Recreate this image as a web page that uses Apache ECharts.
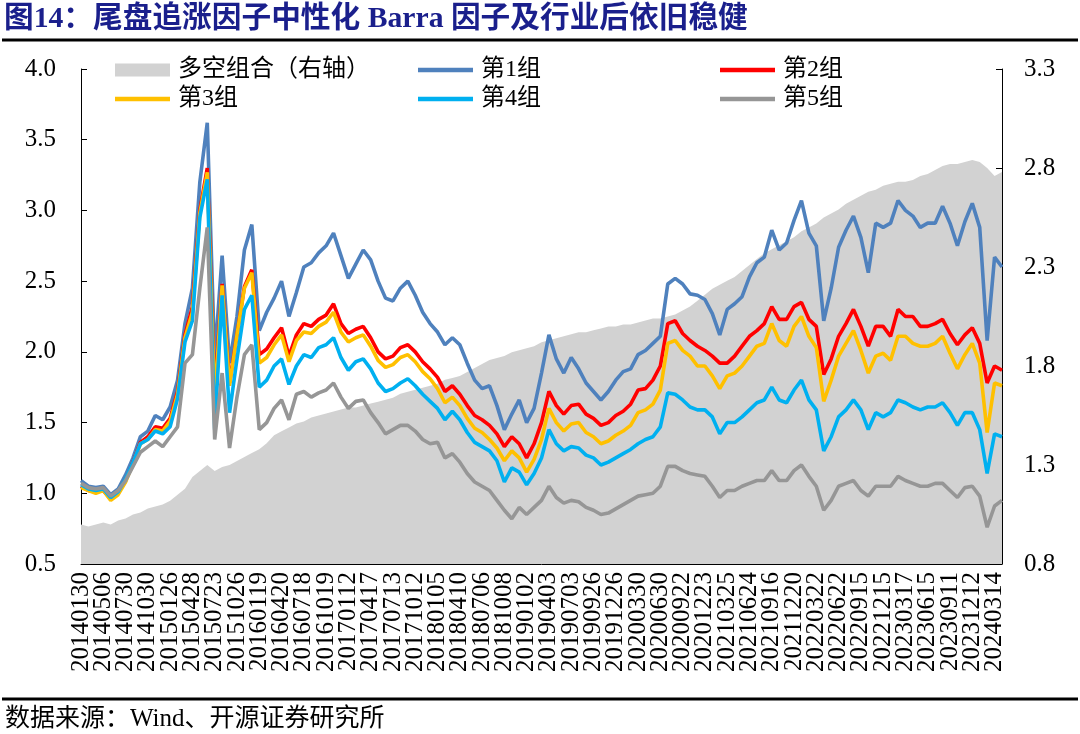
<!DOCTYPE html>
<html><head><meta charset="utf-8">
<script src="https://cdn.jsdelivr.net/npm/echarts@6/dist/echarts.min.js"></script>
<style>html,body{margin:0;padding:0;background:#fff}#c{width:1080px;height:734px}</style>
</head><body><div id="c"></div>
<script>
const titleText = '图14：尾盘追涨因子中性化 Barra 因子及行业后依旧稳健';
const sourceText = '数据来源：Wind、开源证券研究所';
const seriesNames = ['多空组合（右轴）','第1组','第2组','第3组','第4组','第5组'];
const leftAxisRange = [0.5, 4.0, 0.5];
const rightAxisRange = [0.8, 3.3, 0.5];
const labelEvery = 3;

const dates = [
'20140130','20140303','20140401','20140506','20140604','20140702','20140730','20140827','20140926','20141030','20141127','20141225','20150126','20150226','20150327',
'20150428','20150527','20150625','20150723','20150820','20150921','20151026','20151123','20151221','20160119','20160224','20160323','20160420','20160519','20160617',
'20160718','20160815','20160913','20161019','20161116','20161214','20170112','20170217','20170317','20170417','20170516','20170614','20170713','20170810','20170907',
'20171012','20171109','20171207','20180105','20180202','20180313','20180410','20180510','20180607','20180706','20180803','20180831','20181008','20181105','20181203',
'20190102','20190131','20190306','20190403','20190506','20190603','20190703','20190731','20190828','20190926','20191031','20191128','20191226','20200203','20200302',
'20200330','20200430','20200601','20200630','20200729','20200826','20200922','20201028','20201125','20201223','20210125','20210224','20210325','20210426','20210526',
'20210624','20210722','20210819','20210916','20211021','20211118','20211220','20220121','20220222','20220322','20220421','20220524','20220622','20220720','20220817',
'20220915','20221020','20221117','20221215','20230116','20230216','20230317','20230418','20230517','20230615','20230714','20230811','20230911','20231019','20231116',
'20231212','20240111','20240213','20240314','20240412'];

const longShort = [
1.00,0.99,1.00,1.01,1.00,1.02,1.03,1.05,1.06,1.08,1.09,1.10,1.12,1.15,1.18,
1.24,1.27,1.30,1.27,1.29,1.30,1.32,1.34,1.36,1.38,1.41,1.45,1.47,1.49,1.51,
1.52,1.54,1.55,1.56,1.57,1.58,1.59,1.59,1.60,1.61,1.62,1.63,1.64,1.66,1.67,
1.68,1.69,1.70,1.71,1.73,1.74,1.75,1.77,1.79,1.81,1.83,1.84,1.85,1.87,1.88,
1.89,1.90,1.92,1.93,1.94,1.95,1.96,1.97,1.97,1.98,1.99,2.00,2.00,2.01,2.01,
2.02,2.03,2.04,2.04,2.05,2.06,2.08,2.10,2.13,2.16,2.19,2.21,2.23,2.25,2.28,
2.31,2.34,2.37,2.39,2.41,2.43,2.45,2.48,2.50,2.52,2.55,2.57,2.59,2.62,2.64,
2.66,2.68,2.69,2.71,2.72,2.73,2.73,2.74,2.76,2.77,2.79,2.81,2.82,2.82,2.83,
2.84,2.83,2.80,2.76,2.78];

const group1 = [
1.09,1.05,1.04,1.05,0.99,1.03,1.13,1.25,1.40,1.44,1.55,1.52,1.61,1.80,2.20,
2.45,3.20,3.62,1.95,2.68,1.92,2.25,2.72,2.90,2.15,2.28,2.38,2.50,2.25,2.42,
2.60,2.63,2.70,2.75,2.84,2.68,2.52,2.62,2.72,2.65,2.50,2.38,2.36,2.45,2.50,
2.40,2.28,2.20,2.14,2.05,2.10,2.05,1.92,1.80,1.74,1.76,1.62,1.45,1.56,1.66,
1.50,1.60,1.85,2.12,1.95,1.85,1.96,1.88,1.78,1.72,1.66,1.72,1.80,1.86,1.88,
1.98,2.01,2.06,2.11,2.48,2.52,2.48,2.41,2.40,2.37,2.27,2.12,2.30,2.34,2.39,
2.53,2.63,2.67,2.86,2.72,2.77,2.93,3.07,2.84,2.75,2.22,2.45,2.74,2.86,2.96,
2.81,2.56,2.91,2.88,2.91,3.07,3.00,2.96,2.88,2.91,2.91,3.03,2.91,2.75,2.92,
3.05,2.88,2.08,2.67,2.60];

const group2 = [
1.05,1.02,1.01,1.02,0.96,1.00,1.09,1.22,1.36,1.40,1.47,1.46,1.53,1.72,2.12,
2.32,3.00,3.30,1.70,2.48,1.78,2.12,2.46,2.58,1.98,2.02,2.10,2.17,1.97,2.12,
2.20,2.18,2.23,2.26,2.34,2.20,2.13,2.16,2.18,2.10,2.00,1.95,1.97,2.03,2.05,
2.00,1.93,1.88,1.82,1.72,1.76,1.70,1.62,1.55,1.52,1.48,1.42,1.33,1.40,1.35,
1.25,1.35,1.50,1.72,1.62,1.56,1.62,1.63,1.56,1.53,1.48,1.50,1.55,1.58,1.63,
1.73,1.74,1.80,1.90,2.20,2.22,2.13,2.08,2.04,2.01,1.97,1.92,1.92,1.97,2.04,
2.11,2.15,2.20,2.32,2.23,2.23,2.32,2.35,2.23,2.18,1.84,1.95,2.11,2.20,2.30,
2.18,2.04,2.18,2.18,2.11,2.30,2.25,2.25,2.18,2.18,2.20,2.23,2.13,2.05,2.12,
2.17,2.06,1.78,1.90,1.87];

const group3 = [
1.04,1.02,1.00,1.02,0.95,0.99,1.08,1.21,1.35,1.38,1.45,1.44,1.51,1.70,2.10,
2.28,2.98,3.27,1.65,2.47,1.76,2.12,2.45,2.56,1.92,1.96,2.05,2.12,1.93,2.08,
2.14,2.13,2.18,2.21,2.28,2.14,2.07,2.10,2.12,2.04,1.94,1.89,1.91,1.96,1.98,
1.93,1.86,1.81,1.74,1.64,1.68,1.62,1.53,1.46,1.43,1.38,1.32,1.23,1.30,1.25,
1.15,1.24,1.38,1.60,1.50,1.44,1.49,1.50,1.43,1.40,1.35,1.37,1.41,1.44,1.48,
1.57,1.59,1.63,1.73,2.06,2.08,2.01,1.97,1.90,1.90,1.83,1.74,1.83,1.85,1.90,
1.97,2.04,2.06,2.20,2.08,2.04,2.18,2.25,2.11,2.03,1.65,1.80,1.97,2.06,2.15,
2.01,1.85,1.97,1.99,1.94,2.11,2.11,2.06,2.04,2.04,2.06,2.11,1.99,1.88,1.98,
2.06,1.92,1.43,1.78,1.76];

const group4 = [
1.06,1.03,1.02,1.03,0.97,1.01,1.10,1.22,1.35,1.38,1.44,1.42,1.47,1.67,2.07,
2.22,2.95,3.22,1.45,2.40,1.57,1.95,2.30,2.40,1.75,1.80,1.90,1.95,1.77,1.90,
1.98,1.96,2.03,2.05,2.10,1.96,1.87,1.93,1.95,1.88,1.78,1.72,1.74,1.78,1.81,
1.76,1.70,1.65,1.60,1.52,1.58,1.52,1.43,1.36,1.33,1.30,1.23,1.08,1.18,1.15,
1.06,1.14,1.25,1.45,1.35,1.30,1.33,1.32,1.27,1.25,1.20,1.22,1.25,1.28,1.31,
1.35,1.38,1.40,1.47,1.71,1.70,1.66,1.61,1.59,1.59,1.54,1.42,1.50,1.50,1.54,
1.59,1.64,1.66,1.75,1.66,1.64,1.73,1.80,1.66,1.59,1.30,1.40,1.54,1.59,1.66,
1.59,1.45,1.57,1.54,1.57,1.66,1.64,1.61,1.59,1.61,1.61,1.64,1.57,1.48,1.57,
1.57,1.45,1.14,1.42,1.40];

const group5 = [
1.07,1.04,1.03,1.04,0.98,1.02,1.09,1.19,1.29,1.33,1.37,1.33,1.40,1.47,1.92,
1.98,2.45,2.88,1.38,1.85,1.32,1.68,1.98,2.05,1.45,1.50,1.60,1.66,1.52,1.70,
1.72,1.68,1.71,1.73,1.78,1.68,1.60,1.65,1.66,1.57,1.50,1.42,1.45,1.48,1.48,
1.44,1.38,1.35,1.36,1.25,1.28,1.22,1.14,1.08,1.05,1.02,0.95,0.88,0.82,0.90,
0.85,0.90,0.95,1.05,0.97,0.93,0.95,0.94,0.90,0.88,0.85,0.86,0.89,0.92,0.95,
0.98,0.99,1.00,1.05,1.19,1.19,1.16,1.14,1.13,1.12,1.05,0.97,1.02,1.02,1.05,
1.07,1.09,1.09,1.16,1.09,1.09,1.16,1.20,1.12,1.05,0.88,0.95,1.05,1.07,1.09,
1.02,0.98,1.05,1.05,1.05,1.12,1.09,1.07,1.05,1.05,1.07,1.07,1.02,0.97,1.04,
1.05,0.98,0.76,0.91,0.95];

const colors = ['#D2D2D2','#4F81BD','#FF0000','#FFC000','#00B0F0','#969696'];
const serif = "'Liberation Serif','Noto Sans CJK SC',serif";
const lineIcon = 'path://M0,0H55V4.5H0Z';

const chart = echarts.init(document.getElementById('c'), null, {renderer:'canvas', width:1080, height:734});

function lineSeries(name, data, color) {
  return {name, type:'line', data, yAxisIndex:0, symbol:'none', showSymbol:false,
    lineStyle:{color, width:3.6}, itemStyle:{color}, color, smooth:false};
}

const legendBase = {orient:'vertical', itemWidth:55, itemHeight:13, itemGap:5, padding:0,
  textStyle:{fontFamily:serif, fontSize:24, color:'#000', lineHeight:24, padding:[0,0,0,3]}};

const showEvery = (idx) => idx % labelEvery === 0;

chart.setOption({
  animation:false,
  backgroundColor:'#fff',
  title:{text:titleText, left:4, top:4, padding:0,
    textStyle:{fontFamily:serif, fontSize:29.7, fontWeight:'bold', color:'#1A1F8C'}},
  graphic:[
    {type:'line', shape:{x1:2,y1:40,x2:1078,y2:40}, style:{stroke:'#000', lineWidth:3}},
    {type:'line', shape:{x1:2,y1:699,x2:1078,y2:699}, style:{stroke:'#000', lineWidth:3}},
    {type:'text', left:5, top:707, style:{text:sourceText, fontFamily:serif, fontSize:25, fill:'#000'}}
  ],
  legend:[
    Object.assign({}, legendBase, {left:115, top:58, data:[{name:seriesNames[0], icon:'rect'}, {name:seriesNames[3], icon:lineIcon}]}),
    Object.assign({}, legendBase, {left:418, top:58, data:[{name:seriesNames[1], icon:lineIcon}, {name:seriesNames[4], icon:lineIcon}]}),
    Object.assign({}, legendBase, {left:720, top:58, data:[{name:seriesNames[2], icon:lineIcon}, {name:seriesNames[5], icon:lineIcon}]})
  ],
  grid:{left:81, right:78, top:69, bottom:170},
  xAxis:{type:'category', data:dates, boundaryGap:false,
    axisLine:{lineStyle:{color:'#000', width:1}},
    axisTick:{inside:true, length:5, interval:showEvery, lineStyle:{color:'#000'}},
    axisLabel:{interval:0, hideOverlap:false,
      formatter:(value, idx) => showEvery(idx) ? value : '',
      rotate:90, margin:8, fontFamily:serif, fontSize:25, color:'#000'},
    splitLine:{show:false}},
  yAxis:[
    {type:'value', min:leftAxisRange[0], max:leftAxisRange[1], interval:leftAxisRange[2],
      axisLine:{show:true, lineStyle:{color:'#000', width:1}},
      axisTick:{show:true, inside:true, length:6, lineStyle:{color:'#000'}},
      axisLabel:{margin:25, fontFamily:serif, fontSize:25, color:'#000', formatter:v=>v.toFixed(1)},
      splitLine:{show:false}},
    {type:'value', min:rightAxisRange[0], max:rightAxisRange[1], interval:rightAxisRange[2], position:'right',
      axisLine:{show:true, lineStyle:{color:'#000', width:1}},
      axisTick:{show:true, inside:true, length:6, lineStyle:{color:'#000'}},
      axisLabel:{margin:22, fontFamily:serif, fontSize:25, color:'#000', formatter:v=>v.toFixed(1)},
      splitLine:{show:false}}
  ],
  series:[
    {name:seriesNames[0], type:'line', data:longShort, yAxisIndex:1, symbol:'none', showSymbol:false,
      color:colors[0], itemStyle:{color:colors[0], borderWidth:0},
      lineStyle:{width:0, color:colors[0]}, areaStyle:{color:colors[0], opacity:1, origin:'start'}},
    lineSeries(seriesNames[1], group1, colors[1]),
    lineSeries(seriesNames[2], group2, colors[2]),
    lineSeries(seriesNames[3], group3, colors[3]),
    lineSeries(seriesNames[4], group4, colors[4]),
    lineSeries(seriesNames[5], group5, colors[5])
  ]
});
</script></body></html>
